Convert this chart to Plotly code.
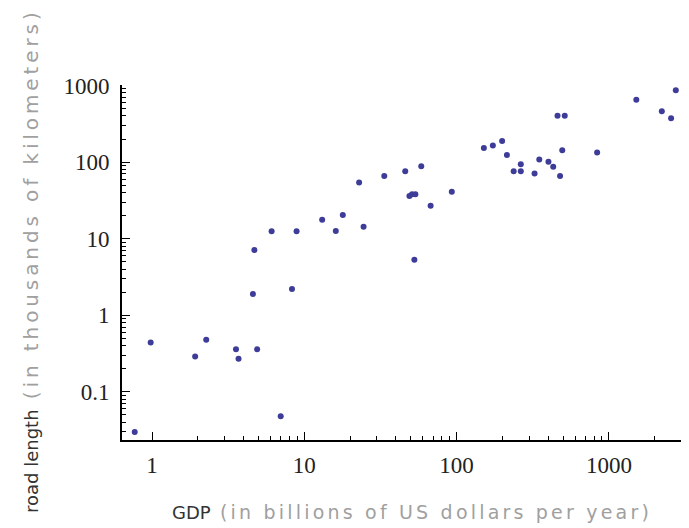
import plotly.graph_objects as go

# GDP (billions of US dollars per year) and road length (thousands of km)
gdp = [0.77, 0.98, 1.92, 2.27, 3.56, 3.70, 4.9, 7.0, 4.7, 4.6, 6.1, 8.9, 8.3,
       13.1, 16.1, 17.9, 24.5, 22.9, 33.5, 46, 58.6, 49, 51, 53.6, 67.5, 93,
       52.8, 151, 173, 199, 214, 264, 237, 264, 325, 349, 401, 431, 478, 494,
       460, 513, 837, 1514, 2226, 2561, 2750, 3350]
road = [0.030, 0.44, 0.29, 0.48, 0.36, 0.27, 0.36, 0.048, 7.1, 1.9, 12.5, 12.5,
        2.2, 17.7, 12.6, 20.4, 14.3, 54, 66, 76, 88, 36, 38, 38, 27, 41, 5.3,
        153, 164, 189, 124, 94, 76, 76, 71, 108, 101, 87, 66, 143, 403, 403,
        133, 653, 462, 374, 865, 612]

x_ticks = [1, 10, 100, 1000]
x_tick_labels = ["1", "10", "100", "1000"]
y_ticks = [0.1, 1, 10, 100, 1000]
y_tick_labels = ["0.1", "1", "10", "100", "1000"]

x_minor = [m * d for d in [1, 10, 100, 1000] for m in range(2, 10)]
y_minor = [m * d for d in [0.01, 0.1, 1, 10, 100] for m in range(2, 10)]

fig = go.Figure()
fig.add_trace(go.Scatter(
    x=gdp, y=road, mode="markers",
    marker=dict(size=6, color="rgb(61,61,153)", line=dict(width=0)),
    cliponaxis=True, hoverinfo="skip",
))

tickfont = dict(family="Liberation Serif", size=23, color="#222222")

fig.update_layout(
    width=681, height=520,
    margin=dict(l=114, r=0, t=77, b=88),
    paper_bgcolor="white", plot_bgcolor="white",
    showlegend=False,
    xaxis=dict(
        type="log", range=[-0.197, 3.526],
        showgrid=False, zeroline=False,
        showline=True, linecolor="black", linewidth=1.6,
        ticks="inside", ticklen=8, tickwidth=1.4, tickcolor="black",
        tickmode="array", tickvals=x_ticks, ticktext=x_tick_labels,
        tickfont=tickfont, ticklabelstandoff=4,
        minor=dict(tickmode="array", tickvals=x_minor, ticks="inside",
                   ticklen=4, tickwidth=1.2, tickcolor="black", showgrid=False),
    ),
    yaxis=dict(
        type="log", range=[-1.628, 3.006],
        showgrid=False, zeroline=False,
        showline=True, linecolor="black", linewidth=1.6,
        ticks="inside", ticklen=8, tickwidth=1.4, tickcolor="black",
        tickmode="array", tickvals=y_ticks, ticktext=y_tick_labels,
        tickfont=tickfont, ticklabelstandoff=6,
        minor=dict(tickmode="array", tickvals=y_minor, ticks="inside",
                   ticklen=4, tickwidth=1.2, tickcolor="black", showgrid=False),
    ),
    annotations=[
        dict(
            text='<span style="color:#333333">GDP</span>'
                 '<span style="color:#a0a0a0;font-size:19px;letter-spacing:3.2px"> (in billions of US dollars per year)</span>',
            xref="paper", yref="paper", x=0.5115, y=-0.2028,
            xanchor="center", yanchor="middle", showarrow=False,
            font=dict(family="DejaVu Sans", size=18),
        ),
        dict(
            text='<span style="color:#333333">road length</span>'
                 '<span style="color:#a0a0a0;font-size:20px;letter-spacing:3.9px"> (in thousands of kilometers)</span>',
            xref="paper", yref="paper", x=-0.1605, y=0.507, textangle=-90,
            xanchor="center", yanchor="middle", showarrow=False,
            font=dict(family="DejaVu Sans", size=18),
        ),
    ],
)

fig.write_html("out.html")
